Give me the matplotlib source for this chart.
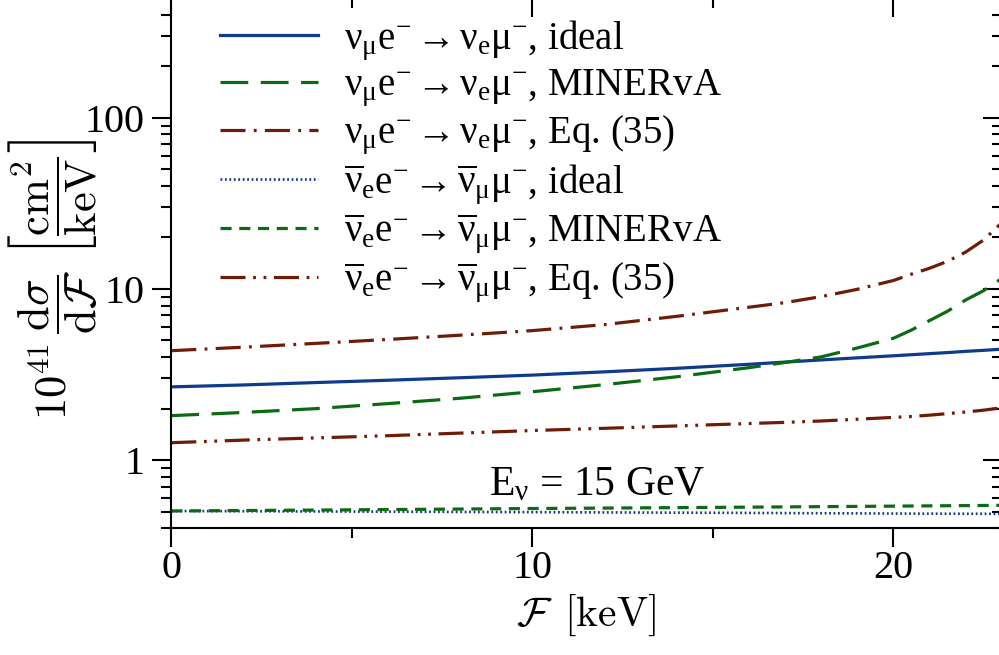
import numpy as np
import matplotlib
matplotlib.use("Agg")
import matplotlib.pyplot as plt
from matplotlib.ticker import MultipleLocator, FuncFormatter, NullFormatter

# --- style ---
plt.rcParams["font.family"] = ["Liberation Serif", "DejaVu Serif"]
plt.rcParams["mathtext.fontset"] = "cm"
plt.rcParams["mathtext.rm"] = "Liberation Serif"
plt.rcParams["mathtext.it"] = "Liberation Serif:italic"
plt.rcParams["mathtext.bf"] = "Liberation Serif:bold"
plt.rcParams["lines.scale_dashes"] = False

blue = "#103b8c"
green = "#0b6b12"
brown = "#6e1c08"

# --- donnees (E_nu = 15 GeV) ---
F = [0, 2, 4, 6, 8, 10, 12, 14, 16, 17, 18, 19, 20, 20.5, 21, 21.5, 22, 22.5, 23]
numu_ideal = [2.68, 2.75, 2.84, 2.93, 3.03, 3.14, 3.28, 3.44, 3.63, 3.74, 3.85, 3.96,
              4.07, 4.13, 4.19, 4.25, 4.32, 4.38, 4.45]
numu_minerva = [1.82, 1.90, 2.00, 2.14, 2.30, 2.51, 2.76, 3.07, 3.47, 3.72, 4.01, 4.52,
                5.15, 5.75, 6.53, 7.41, 8.61, 9.77, 11.5]
numu_eq35 = [4.36, 4.57, 4.81, 5.07, 5.37, 5.71, 6.19, 6.92, 7.82, 8.32, 9.02, 9.95,
             11.2, 12.2, 13.2, 14.5, 16.4, 19.3, 24.3]
nuebar_eq35 = [1.265, 1.31, 1.349, 1.39, 1.439, 1.49, 1.535, 1.585, 1.637, 1.663, 1.694,
               1.734, 1.778, 1.80, 1.832, 1.87, 1.91, 1.959, 2.023]

F_flat = [0, 5, 10, 15, 20, 23]
nuebar_ideal = [0.505, 0.501, 0.497, 0.493, 0.488, 0.486]
nuebar_minerva = [0.505, 0.513, 0.522, 0.530, 0.539, 0.545]

nu = r"$\mathrm{ν_μ e^{-}}\,$→$\,\mathrm{ν_e μ^{-}}$"
nubar = r"$\mathrm{\overline{ν}_e e^{-}}\,$→$\,\mathrm{\overline{ν}_μ μ^{-}}$"
labels = [nu + ", ideal", nu + ", MINERvA", nu + ", Eq. (35)",
          nubar + ", ideal", nubar + ", MINERvA", nubar + ", Eq. (35)"]

fig = plt.figure(figsize=(9.99, 6.55), dpi=100)
ax = fig.add_axes([0.1715, 0.1934, 0.8311, 0.8096])

ax.plot(F, numu_ideal, color=blue, lw=2.3, label=labels[0])
ax.plot(F, numu_minerva, color=green, lw=2.3, dashes=(20, 9), label=labels[1])
ax.plot(F, numu_eq35, color=brown, lw=2.3, dashes=(18, 6, 2, 6), label=labels[2])
ax.plot(F_flat, nuebar_ideal, color=blue, lw=1.9, dashes=(1.3, 1.9), label=labels[3])
ax.plot(F_flat, nuebar_minerva, color=green, lw=2.3, dashes=(8, 5.5), label=labels[4])
ax.plot(F, nuebar_eq35, color=brown, lw=2.3, dashes=(18, 5.5, 2, 5.5, 2, 5.5), label=labels[5])

ax.set_yscale("log")
ax.set_xlim(0, 23)
ax.set_ylim(0.4, 500)

ax.xaxis.set_major_locator(MultipleLocator(10))
ax.xaxis.set_minor_locator(MultipleLocator(5))
ax.yaxis.set_major_formatter(FuncFormatter(lambda v, p: f"{v:g}"))
ax.yaxis.set_minor_formatter(NullFormatter())

for s in ax.spines.values():
    s.set_linewidth(1.5)
ax.tick_params(which="both", direction="out", width=1.5, labelsize=29)
ax.tick_params(axis="y", pad=6)
ax.tick_params(axis="x", pad=2)
ax.tick_params(which="major", length=13.5)
ax.tick_params(which="minor", length=7)

# graduations internes en haut et a droite
top = ax.secondary_xaxis("top")
top.xaxis.set_major_locator(MultipleLocator(10))
top.xaxis.set_minor_locator(MultipleLocator(5))
right = ax.secondary_yaxis("right")
for sec in (top, right):
    sec.tick_params(which="both", direction="in", width=1.5, labelsize=0)
    sec.tick_params(which="major", length=13.5)
    sec.tick_params(which="minor", length=7)
top.set_xticklabels([])
right.yaxis.set_major_formatter(NullFormatter())
right.yaxis.set_minor_formatter(NullFormatter())

ax.set_xlabel(r"$\mathcal{F}\ \,[\mathrm{keV}]$", fontsize=30, labelpad=4)
ax.set_ylabel(r"$10^{41}\,\dfrac{\mathrm{d}\sigma}{\mathrm{d}\mathcal{F}}\ \left[\dfrac{\mathrm{cm}^2}{\mathrm{keV}}\right]$",
              fontsize=32)
ax.yaxis.set_label_coords(-0.087, 0.47)

t = ax.text(11.8, 0.625, r"$\mathrm{E_{ν}}$ = 15 GeV", ha="center", va="baseline", fontsize=30)
t.set_math_fontfamily("custom")

leg = ax.legend(loc="upper left", bbox_to_anchor=(0.059, 0.962), frameon=False, fontsize=28,
                handlelength=2.5, handletextpad=0.67, labelspacing=0.126, borderpad=0,
                borderaxespad=0)
for txt in leg.get_texts():
    txt.set_math_fontfamily("custom")

plt.savefig("out.png", dpi=100)
